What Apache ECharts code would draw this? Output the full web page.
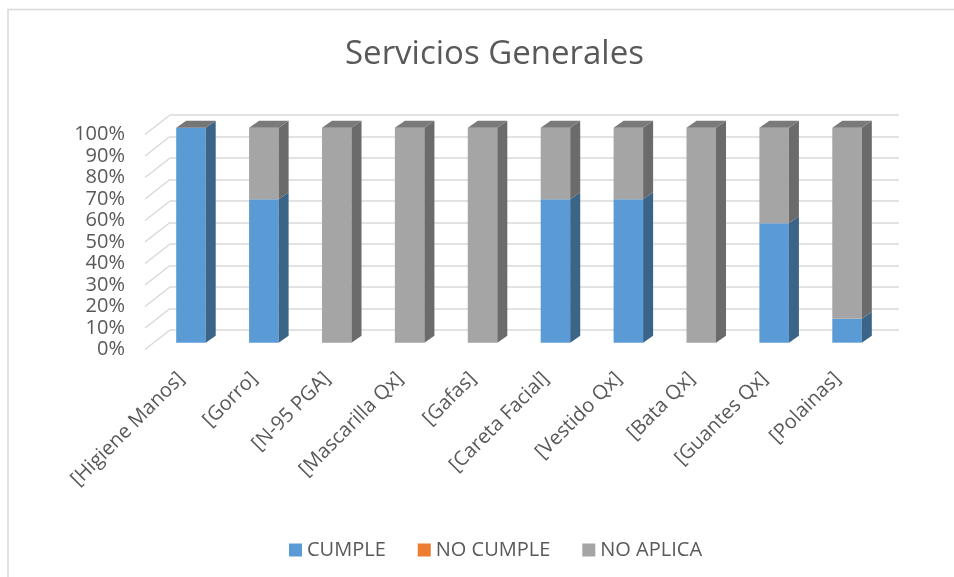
<!DOCTYPE html>
<html>
<head>
<meta charset="utf-8">
<title>Servicios Generales</title>
<script src="https://cdn.jsdelivr.net/npm/echarts@6/dist/echarts.min.js"></script>
<style>
  html, body { margin: 0; padding: 0; background: #fff; }
  #chart { width: 954px; height: 577px; }
</style>
</head>
<body>
<div id="chart"></div>
<script>
// data (percent of each item)
var categories = ['[Higiene Manos]', '[Gorro]', '[N-95 PGA]', '[Mascarilla Qx]', '[Gafas]',
  '[Careta Facial]', '[Vestido Qx]', '[Bata Qx]', '[Guantes Qx]', '[Polainas]'];
var cumple   = [100, 66.7, 0, 0, 0, 66.7, 66.7, 0, 55.6, 11.1];
var noCumple = [0, 0, 0, 0, 0, 0, 0, 0, 0, 0];
var noAplica = [0, 33.3, 100, 100, 100, 33.3, 33.3, 100, 44.4, 88.9];
var yTicks = [0, 10, 20, 30, 40, 50, 60, 70, 80, 90, 100];

var textColor = '#595959';
var font = '"Open Sans", "Noto Sans", sans-serif';

// stack the three series by hand: [index, base, top]
function stacked(values, below) {
  return values.map(function (v, i) {
    var base = 0;
    below.forEach(function (arr) { base += arr[i]; });
    return [i, base, base + v];
  });
}

// fake excel 3d bar: front face, right side, top cap
function bar3d(front, side, top) {
  return function (params, api) {
    var lo = api.value(1), hi = api.value(2);
    if (hi - lo <= 0) return;
    var a = api.coord([api.value(0), lo]);
    var b = api.coord([api.value(0), hi]);
    var w = api.size([1, 0])[0] * 0.405;
    var x0 = a[0] - w / 2, x1 = a[0] + w / 2;
    var dx = 10, dy = 7;
    var kids = [
      { type: 'rect', shape: { x: x0, y: b[1], width: w, height: a[1] - b[1] }, style: { fill: front } },
      { type: 'polygon', shape: { points: [[x1, b[1]], [x1 + dx, b[1] - dy], [x1 + dx, a[1] - dy], [x1, a[1]]] }, style: { fill: side } }
    ];
    if (hi > 99.9) {
      kids.push({ type: 'polygon', shape: { points: [[x0, b[1]], [x1, b[1]], [x1 + dx, b[1] - dy], [x0 + dx, b[1] - dy]] }, style: { fill: top } });
    }
    return { type: 'group', children: kids };
  };
}

var chart = echarts.init(document.getElementById('chart'));

var option = {
  backgroundColor: '#fff',
  animation: false,
  textStyle: { fontFamily: font },
  title: {
    text: 'Servicios Generales',
    left: 340,
    top: 33,
    textStyle: { fontFamily: font, fontSize: 33, fontWeight: 'normal', color: textColor }
  },
  legend: {
    top: 535,
    left: 284,
    itemWidth: 13,
    itemHeight: 13,
    itemGap: 32,
    icon: 'rect',
    textStyle: { fontFamily: font, fontSize: 20, color: textColor },
    data: ['CUMPLE', 'NO CUMPLE', 'NO APLICA']
  },
  graphic: [{
    type: 'rect',
    shape: { x: 8, y: 9.5, width: 1000, height: 1000 },
    style: { fill: 'none', stroke: '#d9d9d9', lineWidth: 1.5 },
    silent: true
  }],
  grid: [
    // back wall with gridlines
    { left: 170, right: 55, top: 115, bottom: 247 },
    // front plane where bars stand
    { left: 154.5, right: 70.5, top: 127.7, bottom: 234.3 },
    // front edge of the side wall, for the axis labels
    { left: 145, right: 80, top: 134.5, bottom: 227.5 }
  ],
  xAxis: [
    { gridIndex: 0, type: 'category', data: categories, show: false },
    { gridIndex: 1, type: 'category', data: categories, show: false },
    {
      gridIndex: 2, type: 'category', data: categories,
      axisLine: { show: false }, axisTick: { show: false },
      axisLabel: { interval: 0, rotate: 45, margin: 26, fontSize: 20, color: textColor, fontFamily: font }
    }
  ],
  yAxis: [
    {
      gridIndex: 0, type: 'value', min: 0, max: 100, interval: 10,
      axisLabel: { show: false }, axisLine: { show: false }, axisTick: { show: false },
      splitLine: { lineStyle: { color: '#d9d9d9', width: 1.5 } }
    },
    { gridIndex: 1, type: 'value', min: 0, max: 100, interval: 10, show: false },
    {
      gridIndex: 2, type: 'value', min: 0, max: 100, interval: 10,
      axisLine: { show: false }, axisTick: { show: false }, splitLine: { show: false },
      axisLabel: { formatter: '{value}%', margin: 20, fontSize: 20, color: textColor, fontFamily: font }
    }
  ],
  series: [
    {
      // side wall gridlines (diagonals on the left)
      type: 'custom',
      xAxisIndex: 0, yAxisIndex: 0,
      silent: true,
      data: yTicks.map(function (v) { return [0, v]; }),
      renderItem: function (params, api) {
        var p = api.coord([0, api.value(1)]);
        var x = params.coordSys.x;
        return {
          type: 'line',
          shape: { x1: x, y1: p[1], x2: x - 25, y2: p[1] + 19.5 },
          style: { stroke: '#d9d9d9', lineWidth: 1.5 }
        };
      }
    },
    {
      name: 'CUMPLE', type: 'custom', xAxisIndex: 1, yAxisIndex: 1,
      itemStyle: { color: '#5b9bd5' },
      encode: { x: 0, y: [1, 2] },
      data: stacked(cumple, []),
      renderItem: bar3d('#5b9bd5', '#3a6488', '#767676')
    },
    {
      name: 'NO CUMPLE', type: 'custom', xAxisIndex: 1, yAxisIndex: 1,
      itemStyle: { color: '#ed7d31' },
      encode: { x: 0, y: [1, 2] },
      data: stacked(noCumple, [cumple]),
      renderItem: bar3d('#ed7d31', '#9c5220', '#8a5a3a')
    },
    {
      name: 'NO APLICA', type: 'custom', xAxisIndex: 1, yAxisIndex: 1,
      itemStyle: { color: '#a5a5a5' },
      encode: { x: 0, y: [1, 2] },
      data: stacked(noAplica, [cumple, noCumple]),
      renderItem: bar3d('#a5a5a5', '#6b6b6b', '#7a7a7a')
    }
  ]
};

chart.setOption(option);
</script>
</body>
</html>
